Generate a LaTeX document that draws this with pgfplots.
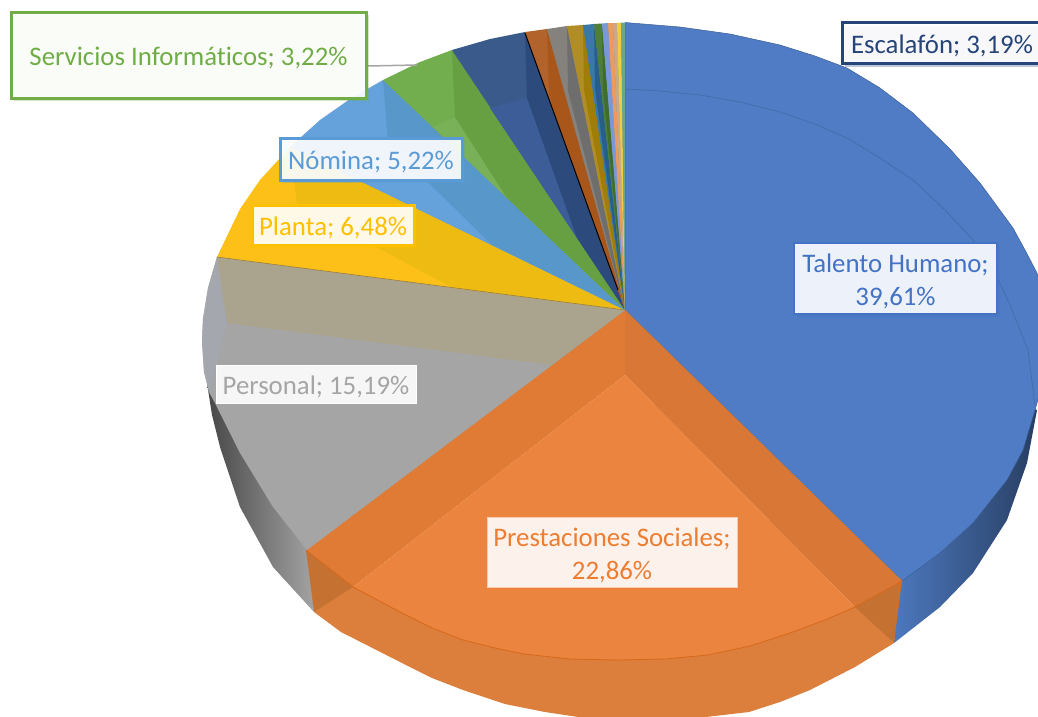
\documentclass[border=0pt]{standalone}
\usepackage{pgfplots}
\usepackage{fontspec}
\setmainfont[Ligatures=NoCommon]{Carlito}
\pgfplotsset{compat=1.18}
\usetikzlibrary{shadows}
\definecolor{blu}{HTML}{4F7CC4}
\definecolor{org}{HTML}{EB843E}
\definecolor{talento}{HTML}{4472C4}
\definecolor{prest}{HTML}{ED7D31}
\definecolor{pers}{HTML}{A5A5A5}
\definecolor{plant}{HTML}{FFC000}
\definecolor{nomi}{HTML}{5B9BD5}
\definecolor{serv}{HTML}{70AD47}
\definecolor{esca}{HTML}{264478}
\newcommand{\up}{\rule{0pt}{25pt}}
% caja de etiqueta: colores, ancho y alto en px
\tikzset{lab/.style n args={4}{draw=#1,line width=#2,fill=white,fill opacity=.9,text opacity=1,
  text=#3,font=\fontsize{26.8}{33}\selectfont,align=center,inner sep=0pt,
  minimum width=#4,
  general shadow={shadow xshift=3pt,shadow yshift=-3pt,fill=#3,opacity=.3}}}
\begin{document}
\begin{tikzpicture}
\path[use as bounding box] (0,0) rectangle (1038pt,716pt);
\begin{axis}[
  at={(0,0)},anchor=south west,
  width=1038pt,height=716pt,scale only axis,
  xmin=0,xmax=1038,ymin=0,ymax=716,y dir=reverse,
  hide axis,clip mode=individual,
]
% paredes laterales
\addplot[draw=none,shade,left color=black!72,right color=black!36] coordinates {(207,383)(212,415)(220,447)(240,507)(273,567)(314,612)(309,548)(276,503)(243,450)(219,403)} --cycle;
\addplot[draw=none,shade,left color=blu!97!black,middle color=blu!88!black,right color=blu!50!black] coordinates {(899,579)(894,643)(940,607)(973,573)(1007,520)(1027,463)(1037,410)(1032,408)(1020,448)(1004,478)(970,521)(937,551)} --cycle;
\addplot[draw=none,fill={rgb,255:red,220;green,126;blue,60}] coordinates {(314,612)(341,632)(402,663)(432,678)(463,690)(505,704)(545,712)(585,718)(625,720)(680,720)(749,712)(780,702)(810,690)(855,667)(894,643)(855,605)(825,618)(790,631)(750,644)(708,653)(665,657)(618,658)(570,657)(524,652)(495,646)(463,638)(432,626)(402,611)(353,585)} --cycle;
\addplot[draw=none,fill={rgb,255:red,197;green,113;blue,50}] coordinates {(306,550)(314,612)(353,587)} --cycle;
\addplot[draw=none,fill={rgb,255:red,197;green,113;blue,50}] coordinates {(902,581)(894,643)(855,607)} --cycle;
% base de las rebanadas de arriba, para que no queden juntas blancas
\addplot[draw=none,fill=black!45] coordinates {(625,310)(217,259)(240,211)(260,182)(290,149)(320,122)(350,101)(383,82)(420,64)(452,52)(490,41)(525,34)(567,28)(625,25)} --cycle;
% Talento Humano
\addplot[draw=blu!75!black,line width=.5pt,fill=blu] coordinates {(625,310)(625,22.5)(680,27)(730,34)(780,45)(815,56)(847,68)(880,88)(913,113)(950,149)(980,183)(1013,228)(1025,250)(1037,273)(1050,320)(1052,345)(1045,375)(1035,410)(1023,450)(1007,480)(973,523)(940,553)(902,581)} --cycle;
\addplot[draw=blu!85!black,line width=.6pt] coordinates {(625,89)(660,91)(700,95)(740,102)(780,112)(815,124)(847,138)(880,158)(913,180)(945,210)(973,240)(985,258)(997,277)(1010,305)(1028,350)(1035,405)};
% Prestaciones Sociales
\addplot[draw=none,fill={rgb,255:red,224;green,123;blue,54}] coordinates {(625,310)(306,550)(353,587)(625,375)} --cycle;
\addplot[draw=none,fill={rgb,255:red,217;green,119;blue,54}] coordinates {(625,310)(625,375)(855,607)(902,581)} --cycle;
\addplot[draw=none,fill=org] coordinates {(625,375)(353,587)(402,613)(432,628)(463,640)(495,648)(524,654)(570,659)(618,660)(665,659)(708,655)(750,646)(790,633)(825,620)(855,607)} --cycle;
\addplot[draw={rgb,255:red,214;green,104;blue,26},line width=.8pt] coordinates {(306,550)(353,587)(402,613)(432,628)(463,640)(495,648)(524,654)(570,659)(618,660)(665,659)(708,655)(750,646)(790,633)(825,620)(855,607)(902,581)};
\addplot[draw={rgb,255:red,200;green,120;blue,60},line width=.5pt] coordinates {(306,550)(625,310)(902,581)};
% Personal
\addplot[draw=none,fill=pers] coordinates {(625,310)(217,257)(208,288)(203,319)(202,341)(204,372)(209,392)(216,405)(240,453)(273,507)(307,550)} --cycle;
\addplot[draw=none,fill={rgb,255:red,164;green,167;blue,173}] coordinates {(217,257)(208,288)(203,319)(202,341)(204,372)(209,392)(217,363)(227,323)} --cycle;
\addplot[draw=none,fill={rgb,255:red,170;green,164;blue,143}] coordinates {(217,257)(625,310)(552,365)(227,323)} --cycle;
% Planta
\addplot[draw=none,fill={rgb,255:red,253;green,192;blue,24}] coordinates {(625,310)(217,257)(240,209)(260,180)(290,147)} --cycle;
\addplot[draw=none,fill={rgb,255:red,238;green,187;blue,18}] coordinates {(290,147)(297,205)(453,288)(625,310)} --cycle;
\addplot[draw={rgb,255:red,150;green,125;blue,70},line width=.6pt] coordinates {(217,257)(625,310)};
% Nomina
\addplot[draw=none,fill={rgb,255:red,101;green,161;blue,219}] coordinates {(625,310)(290,147)(320,120)(350,99)(383,80)} --cycle;
\addplot[draw=none,fill={rgb,255:red,88;green,151;blue,201}] coordinates {(383,80)(388,143)(492,245)(625,310)} --cycle;
% Servicios Informaticos
\addplot[draw=none,fill={rgb,255:red,114;green,173;blue,78}] coordinates {(625,310)(383,80)(420,62)(452,50)} --cycle;
\addplot[draw=none,fill={rgb,255:red,120;green,177;blue,88}] coordinates {(433,127)(455,117)(507,198)} --cycle;
\addplot[draw=none,fill={rgb,255:red,103;green,160;blue,67}] coordinates {(452,50)(455,117)(507,198)(625,310)} --cycle;
% Escalafon
\addplot[draw=none,fill={rgb,255:red,58;green,90;blue,140}] coordinates {(625,310)(452,50)(490,39)(525,32)} --cycle;
\addplot[draw=none,fill={rgb,255:red,61;green,93;blue,152}] coordinates {(490,108)(527,98)(577,238)} --cycle;
\addplot[draw=none,fill={rgb,255:red,44;green,74;blue,124}] coordinates {(525,32)(527,98)(577,238)(625,310)} --cycle;
% rebanadas pequenas
\addplot[draw=none,fill={rgb,255:red,178;green,98;blue,43}] coordinates {(625,310)(525,32)(547,29)} --cycle;
\addplot[draw=none,fill={rgb,255:red,169;green,86;blue,26}] coordinates {(547,29)(549,94)(555,116)(625,310)} --cycle;
\addplot[draw=none,fill={rgb,255:red,133;green,130;blue,126}] coordinates {(625,310)(547,29)(567,26)} --cycle;
\addplot[draw=none,fill={rgb,255:red,110;green,110;blue,110}] coordinates {(567,26)(568,91)(625,310)} --cycle;
\addplot[draw=none,fill={rgb,255:red,176;green,142;blue,37}] coordinates {(625,310)(567,26)(583,25)} --cycle;
\addplot[draw=none,fill={rgb,255:red,160;green,125;blue,8}] coordinates {(583,25)(584,90)(625,310)} --cycle;
\addplot[draw=none,fill={rgb,255:red,58;green,120;blue,168}] coordinates {(625,310)(583,25)(594,24)} --cycle;
\addplot[draw=none,fill={rgb,255:red,38;green,94;blue,140}] coordinates {(594,24)(595,89)(625,310)} --cycle;
\addplot[draw=none,fill={rgb,255:red,78;green,126;blue,58}] coordinates {(625,310)(594,24)(602,23.5)} --cycle;
\addplot[draw=none,fill={rgb,255:red,62;green,109;blue,44}] coordinates {(602,23.5)(603,88)(625,310)} --cycle;
\addplot[draw=none,fill={rgb,255:red,120;green,152;blue,218}] coordinates {(625,310)(602,23.5)(608,23)} --cycle;
\addplot[draw=none,fill={rgb,255:red,238;green,154;blue,92}] coordinates {(625,310)(608,23)(613,23)} --cycle;
\addplot[draw=none,fill={rgb,255:red,200;green,169;blue,140}] coordinates {(625,310)(613,23)(617,23)} --cycle;
\addplot[draw=none,fill={rgb,255:red,240;green,204;blue,64}] coordinates {(625,310)(617,23)(621,22.5)} --cycle;
\addplot[draw=none,fill={rgb,255:red,102;green,168;blue,138}] coordinates {(625,310)(621,22.5)(625,22.5)} --cycle;
\addplot[draw=black,line width=1pt] coordinates {(525,33)(618,290)};
% linea guia
\addplot[draw=pers,line width=1.5pt] coordinates {(367,66)(417,65)};
% etiquetas
\node[lab={serv}{3pt}{serv}{355pt},minimum height=86pt] at (axis cs:188.5,55) {\up Servicios Informáticos; 3,22\%};
\node[lab={esca}{3pt}{esca}{200pt},minimum height=41pt] at (axis cs:942,43) {\up Escalafón; 3,19\%};
\node[lab={nomi}{3pt}{nomi}{182pt},minimum height=42pt] at (axis cs:371,159) {\up Nómina; 5,22\%};
\node[lab={plant}{3pt}{plant}{162pt},minimum height=40pt] at (axis cs:333,225) {\up Planta; 6,48\%};
\node[lab={talento}{1.5pt}{talento}{203pt},minimum height=71pt] at (axis cs:895.5,278.5) {\up Talento Humano;\\39,61\%};
\node[lab={white}{.5pt}{pers}{200pt},minimum height=38pt] at (axis cs:316,384) {\up Personal; 15,19\%};
\node[lab={prest!40!white}{.8pt}{prest}{250pt},minimum height=70pt] at (axis cs:612,552) {\up Prestaciones Sociales;\\22,86\%};
\end{axis}
\end{tikzpicture}
\end{document}
